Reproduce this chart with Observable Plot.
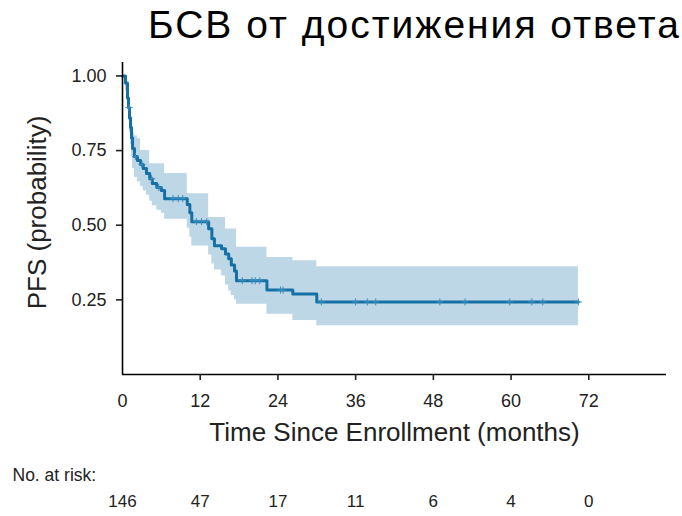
<!DOCTYPE html>
<html>
<head>
<meta charset="utf-8">
<script src="https://cdn.jsdelivr.net/npm/d3@7"></script>
<script src="https://cdn.jsdelivr.net/npm/@observablehq/plot@0.6"></script>
<style>
  body { margin: 0; background: #fff; }
  #wrap { position: relative; width: 682px; height: 516px; overflow: hidden; }
  #title { position: absolute; left: 148px; top: 3px; font-family: "Liberation Sans", Arial, sans-serif; font-size: 39px; letter-spacing: 2px; color: #000; white-space: nowrap; }
  #chart { position: absolute; left: 0; top: 0; }
</style>
</head>
<body>
<div id="wrap">
  <div id="chart"></div>
  <div id="title">БСВ от достижения ответа</div>
</div>
<script>
// Kaplan–Meier estimate of PFS with its confidence band (step values)
const times = [0, 0.46, 0.77, 0.93, 1.08, 1.24, 1.39, 1.55, 1.85, 2.3, 2.8, 3.2, 3.7, 4.2, 4.6, 5.3, 6.0, 6.5, 10.0, 10.4, 10.7, 13.3, 13.8, 14.2, 15.3, 15.9, 16.4, 16.8, 17.3, 17.6, 22.3, 26.3, 30.0, 70.4];
const surv  = [1.0, 0.976, 0.926, 0.894, 0.860, 0.827, 0.793, 0.757, 0.730, 0.717, 0.703, 0.690, 0.673, 0.656, 0.640, 0.626, 0.616, 0.589, 0.569, 0.542, 0.512, 0.488, 0.455, 0.431, 0.421, 0.404, 0.388, 0.367, 0.347, 0.314, 0.283, 0.270, 0.243, 0.243];
const lower = [1.0, 0.95, 0.89, 0.85, 0.81, 0.77, 0.73, 0.69, 0.66, 0.645, 0.63, 0.615, 0.60, 0.58, 0.565, 0.55, 0.54, 0.52, 0.49, 0.46, 0.43, 0.40, 0.37, 0.35, 0.33, 0.30, 0.28, 0.265, 0.25, 0.235, 0.202, 0.181, 0.163, 0.163];
const upper = [1.0, 0.99, 0.96, 0.94, 0.91, 0.88, 0.85, 0.81, 0.80, 0.79, 0.75, 0.75, 0.75, 0.706, 0.706, 0.706, 0.706, 0.673, 0.605, 0.605, 0.605, 0.526, 0.526, 0.526, 0.526, 0.487, 0.487, 0.487, 0.487, 0.426, 0.392, 0.381, 0.361, 0.361];

// Censored observations (months)
const censorTimes = [1.0, 2.0, 3.0, 4.5, 5.6, 7.8, 8.6, 9.3, 11.4, 12.2, 13.0, 18.5, 20.0, 20.5, 21.2, 24.4, 24.8, 30.7, 36.0, 37.8, 39.1, 49.0, 52.9, 59.8, 63.2, 64.9, 70.4];

// Axis ticks and risk table
const xTicks = [0, 12, 24, 36, 48, 60, 72];
const yTicks = [0.25, 0.50, 0.75, 1.00];
const riskTimes = [0, 12, 24, 36, 48, 60, 72];
const riskCounts = [146, 47, 17, 11, 6, 4, 0];

const curve = times.map((t, i) => ({t, s: surv[i], lo: lower[i], hi: upper[i]}));
const stepAt = t => surv[d3.bisectRight(times, t) - 1];
const censors = censorTimes.map(t => ({t, s: stepAt(t)}));

const lineColor = "#1470a5";
const bandColor = "#bdd7e6";
const sans = "'Liberation Sans', Arial, sans-serif";

const chart = Plot.plot({
  width: 682,
  height: 516,
  marginTop: 62,
  marginBottom: 142,
  marginLeft: 122,
  marginRight: 16,
  style: {fontFamily: sans, fontSize: "18px", color: "#222", background: "#fff"},
  x: {domain: [0, 84]},
  y: {domain: [0, 1.045]},
  marks: [
    Plot.areaY(curve, {x: "t", y1: "lo", y2: "hi", curve: "step-after", fill: bandColor}),
    Plot.lineY(curve, {x: "t", y: "s", curve: "step-after", stroke: lineColor, strokeWidth: 3}),
    Plot.dot(censors, {x: "t", y: "s", symbol: "plus", r: 2.4, stroke: "#3a8cbe", strokeWidth: 1}),
    Plot.ruleX([0], {stroke: "#000", strokeWidth: 1.6}),
    Plot.ruleY([0], {stroke: "#000", strokeWidth: 1.6}),
    Plot.axisY({ticks: yTicks, tickFormat: d3.format(".2f"), tickSize: 6, tickPadding: 10, strokeWidth: 1.6, label: null, fontSize: 18}),
    Plot.axisX({ticks: xTicks.slice(1), tickSize: 6, strokeWidth: 1.6, text: null, label: null}),
    Plot.axisX({ticks: xTicks, tickSize: 0, tickPadding: 20, label: null, fontSize: 18}),
    Plot.text(["Time Since Enrollment (months)"], {frameAnchor: "bottom", dy: 66, fontSize: 26, fill: "#222"}),
    Plot.text(["PFS (probability)"], {frameAnchor: "left", textAnchor: "middle", dx: -85, dy: -6, rotate: -90, fontSize: 26, fill: "#222"}),
    Plot.text(["No. at risk:"], {frameAnchor: "bottom-left", dx: -110, dy: 106, textAnchor: "start", fontSize: 17.5, fill: "#222"}),
    Plot.text(riskTimes, {x: d => d, text: (d, i) => String(riskCounts[i]), frameAnchor: "bottom", dy: 132, fontSize: 17, fill: "#222"})
  ]
});
document.getElementById("chart").appendChild(chart);
</script>
</body>
</html>
